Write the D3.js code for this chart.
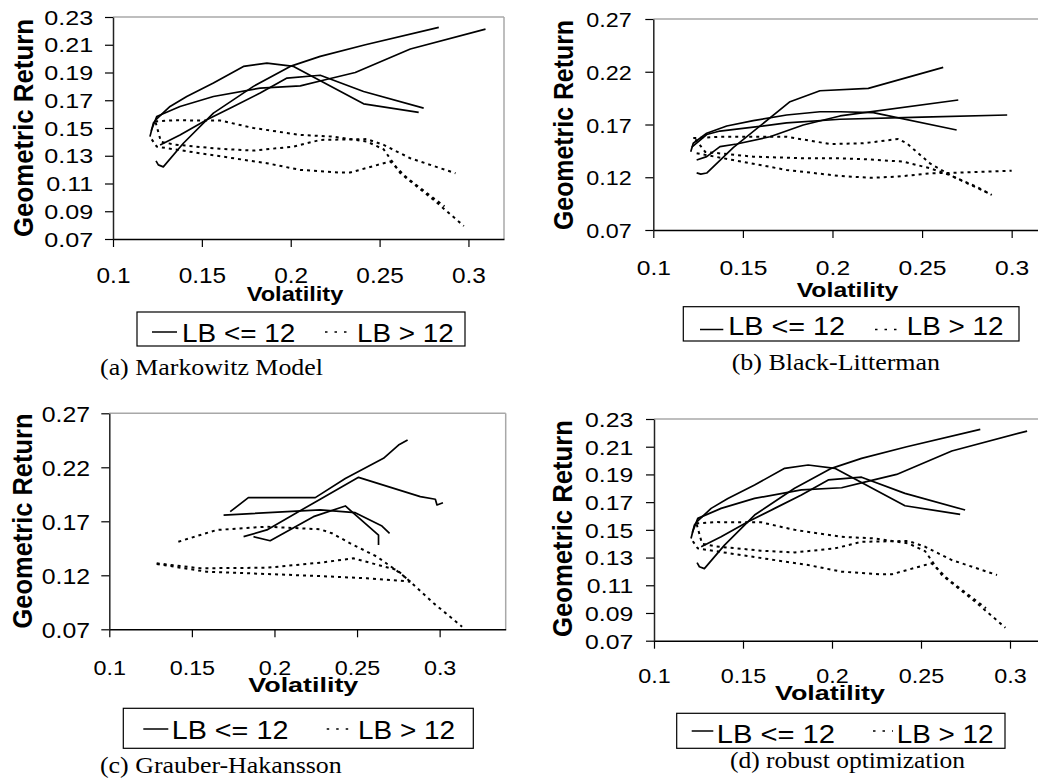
<!DOCTYPE html>
<html>
<head>
<meta charset="utf-8">
<script src="https://cdn.jsdelivr.net/npm/d3@7"></script>
<style>
  body { margin: 0; background: #fff; }
  svg { display: block; }
</style>
</head>
<body>
<svg id="chart" width="1038" height="783"></svg>
<script>
// Frontier curves as [volatility, geometric return] pairs.
// "Short" = look-back LB <= 12 (solid), "Long" = LB > 12 (dotted).

const markowitzShort = [
  [[0.1208,0.1438],[0.1227,0.1535],[0.1246,0.1565],[0.1321,0.1655],[0.1415,0.1727],[0.1565,0.1824],[0.1734,0.1944],[0.1866,0.1968],[0.2016,0.1944],[0.2410,0.1674],[0.2720,0.1612]],
  [[0.1215,0.1480],[0.1246,0.1583],[0.1377,0.1655],[0.1565,0.1727],[0.1828,0.1788],[0.2054,0.1804],[0.2194,0.1848],[0.2363,0.1900],[0.2673,0.2069],[0.3096,0.2213]],
  [[0.1265,0.1378],[0.1377,0.1450],[0.1528,0.1559],[0.1678,0.1655],[0.1828,0.1752],[0.1979,0.1860],[0.2166,0.1880],[0.2410,0.1763],[0.2748,0.1643]],
  [[0.1242,0.1263],[0.1255,0.1234],[0.1283,0.1220],[0.1396,0.1390],[0.1565,0.1607],[0.1790,0.1800],[0.1997,0.1944],[0.2166,0.2016],[0.2420,0.2100],[0.2833,0.2225]]
];
const markowitzLong = [
  [[0.1237,0.1547],[0.1350,0.1556],[0.1490,0.1554],[0.1603,0.1554],[0.1790,0.1500],[0.2054,0.1450],[0.2239,0.1438],[0.2429,0.1402],[0.2523,0.1346],[0.2617,0.1174],[0.2805,0.0981],[0.2974,0.0794]],
  [[0.1240,0.1540],[0.1270,0.1400],[0.1350,0.1380],[0.1600,0.1350],[0.1790,0.1337],[0.2016,0.1366],[0.2166,0.1414],[0.2429,0.1420],[0.2523,0.1378],[0.2673,0.1282],[0.2927,0.1174]],
  [[0.1218,0.1418],[0.1246,0.1366],[0.1490,0.1318],[0.1866,0.1246],[0.2054,0.1198],[0.2279,0.1179],[0.2335,0.1179],[0.2523,0.1246],[0.2560,0.1258],[0.2655,0.1140],[0.2865,0.0935]]
];

const blackLittermanShort = [
  [[0.1242,0.1242],[0.1265,0.1230],[0.1298,0.1240],[0.1446,0.1480],[0.1763,0.1916],[0.1930,0.2020],[0.2200,0.2043],[0.2618,0.2242]],
  [[0.1209,0.1442],[0.1223,0.1522],[0.1298,0.1617],[0.1410,0.1686],[0.1558,0.1736],[0.1744,0.1790],[0.1930,0.1821],[0.2042,0.1821],[0.2228,0.1812],[0.2693,0.1648]],
  [[0.1215,0.1485],[0.1298,0.1605],[0.1372,0.1638],[0.1558,0.1675],[0.1744,0.1715],[0.2042,0.1750],[0.2500,0.1770],[0.2975,0.1790]],
  [[0.1242,0.1363],[0.1298,0.1395],[0.1372,0.1490],[0.1465,0.1515],[0.1651,0.1584],[0.1837,0.1695],[0.2042,0.1781],[0.2702,0.1932]]
];
const blackLittermanLong = [
  [[0.1223,0.1571],[0.1372,0.1584],[0.1744,0.1584],[0.1986,0.1515],[0.2172,0.1522],[0.2367,0.1563],[0.2414,0.1522],[0.2544,0.1332],[0.2674,0.1205],[0.2879,0.1041]],
  [[0.1235,0.1560],[0.1290,0.1440],[0.1558,0.1395],[0.1837,0.1380],[0.2042,0.1380],[0.2191,0.1370],[0.2395,0.1348],[0.2544,0.1285],[0.2656,0.1220],[0.2805,0.1109],[0.2889,0.1032]],
  [[0.1242,0.1427],[0.1446,0.1363],[0.1744,0.1269],[0.2042,0.1212],[0.2209,0.1195],[0.2358,0.1205],[0.2544,0.1237],[0.2693,0.1243],[0.3000,0.1262]]
];

const grauberShort = [
  [[0.1732,0.1789],[0.1842,0.1919],[0.2247,0.1919],[0.2429,0.2097],[0.2660,0.2283],[0.2751,0.2406],[0.2806,0.2453]],
  [[0.1813,0.1558],[0.1954,0.1620],[0.2277,0.1905],[0.2509,0.2107],[0.2883,0.1928],[0.2974,0.1904],[0.2984,0.1851],[0.3020,0.1872]],
  [[0.1692,0.1758],[0.2277,0.1805],[0.2489,0.1780],[0.2651,0.1656],[0.2697,0.1589]],
  [[0.1873,0.1558],[0.1974,0.1520],[0.2236,0.1743],[0.2429,0.1842],[0.2630,0.1573],[0.2630,0.1481]]
];
const grauberLong = [
  [[0.1418,0.1511],[0.1651,0.1620],[0.1954,0.1650],[0.2277,0.1626],[0.2348,0.1589],[0.2459,0.1496],[0.2621,0.1372],[0.2762,0.1219],[0.2822,0.1141],[0.2964,0.0941],[0.3136,0.0724]],
  [[0.1287,0.1311],[0.1550,0.1265],[0.1954,0.1270],[0.2277,0.1317],[0.2479,0.1357],[0.2742,0.1249],[0.2822,0.1141]],
  [[0.1287,0.1305],[0.1590,0.1233],[0.1954,0.1212],[0.2277,0.1193],[0.2560,0.1172],[0.2762,0.1150],[0.2822,0.1141]]
];

// The robust-optimization frontiers coincide with the Markowitz ones.
const robustShort = markowitzShort;
const robustLong = markowitzLong;

const xTickValues = [0.1, 0.15, 0.2, 0.25, 0.3];
const yTicksFine = [0.07, 0.09, 0.11, 0.13, 0.15, 0.17, 0.19, 0.21, 0.23];
const yTicksCoarse = [0.07, 0.12, 0.17, 0.22, 0.27];
const legendLabels = ["LB <= 12", "LB > 12"];
const captions = ["(a) Markowitz Model", "(b) Black-Litterman", "(c) Grauber-Hakansson", "(d) robust optimization"];
const xTitle = "Volatility";
const yTitle = "Geometric Return";

// Panel placement and text metrics (label widths in px: y label "0.xx", x label "0.15").
const panels = [
  { short: markowitzShort, long: markowitzLong, caption: captions[0], yTicks: yTicksFine,
    plot: [113, 17, 504, 239], xMax: 0.32, yMax: 0.23, drawRight: true,
    yLab: { fs: 19.5, w: 49, right: 93.3 }, xLab: { fs: 21.5, w: 47.5, base: 283 },
    vol: { x: 295, base: 300.5, fs: 19.5, w: 96.7 },
    yT: { x: 33.3, y: 128, fs: 27, w: 218 },
    leg: { box: [137, 312, 465, 346], lineY: 332, s1: [152, 177], t1: 182, w1: 113.3, s2: [325, 353], t2: 357, w2: 96.7, base: 341.7, fs: 26 },
    cap: { x: 100, base: 375, fs: 23, w: 223 } },
  { short: blackLittermanShort, long: blackLittermanLong, caption: captions[1], yTicks: yTicksCoarse,
    plot: [653.3, 19, 1047.5, 230], xMax: 0.32, yMax: 0.27, drawRight: false,
    yLab: { fs: 21, w: 45.5, right: 631.7 }, xLab: { fs: 21, w: 48, base: 275 },
    vol: { x: 847.5, base: 297, fs: 19.5, w: 101.7 },
    yT: { x: 573, y: 125, fs: 27, w: 210 },
    leg: { box: [683.3, 306.7, 1019, 341], lineY: 329.5, s1: [700, 723.3], t1: 728.3, w1: 116.7, s2: [875, 901.7], t2: 906.7, w2: 96.7, base: 335, fs: 26 },
    cap: { x: 731.7, base: 370, fs: 23, w: 208.3 } },
  { short: grauberShort, long: grauberLong, caption: captions[2], yTicks: yTicksCoarse,
    plot: [109.3, 413.3, 505.7, 629.3], xMax: 0.34, yMax: 0.27, drawRight: true,
    yLab: { fs: 22, w: 48.3, right: 90 }, xLab: { fs: 21, w: 45.5, base: 675 },
    vol: { x: 303.3, base: 692, fs: 19.5, w: 110 },
    yT: { x: 32, y: 521, fs: 27, w: 215 },
    leg: { box: [123.3, 708.3, 473.3, 748.3], lineY: 729, s1: [143.3, 168.3], t1: 171.7, w1: 116.7, s2: [326.7, 353.3], t2: 358, w2: 97, base: 739, fs: 26 },
    cap: { x: 100, base: 773, fs: 23, w: 241.7 } },
  { short: robustShort, long: robustLong, caption: captions[3], yTicks: yTicksFine,
    plot: [654, 419, 1045.6, 640.7], xMax: 0.32, yMax: 0.23, drawRight: false,
    yLab: { fs: 20.5, w: 48.3, right: 633.3 }, xLab: { fs: 21, w: 45.5, base: 683 },
    vol: { x: 830, base: 700, fs: 19.5, w: 110 },
    yT: { x: 572, y: 528.5, fs: 27, w: 217 },
    leg: { box: [676.7, 713.3, 1005, 748.3], lineY: 731, s1: [691.7, 713.3], t1: 716.7, w1: 118.3, s2: [873, 893], t2: 896.7, w2: 96.7, base: 742.7, fs: 26 },
    cap: { x: 730, base: 768.3, fs: 23, w: 235 } }
];

const SANS = "Liberation Sans, Arial, sans-serif";
const SERIF = "Liberation Serif, Times New Roman, serif";
const DOT = "3,4";

const svg = d3.select("#chart");

// natural advance width of a string at a given size (sans)
function naturalWidth(str, fs, weight) {
  const t = svg.append("text").attr("font-family", SANS).attr("font-size", fs)
    .attr("font-weight", weight || "normal").text(str);
  const w = t.node().getComputedTextLength();
  t.remove();
  return w;
}

panels.forEach(p => {
  const [l, t, r, b] = p.plot;
  const x = d3.scaleLinear().domain([0.1, p.xMax]).range([l, r]);
  const y = d3.scaleLinear().domain([0.07, p.yMax]).range([b, t]);
  const g = svg.append("g");

  // plot-area frame (top / right in grey)
  g.append("line").attr("x1", l).attr("x2", r).attr("y1", t).attr("y2", t)
    .attr("stroke", "#a8a8a8").attr("stroke-width", 1.5);
  if (p.drawRight) {
    g.append("line").attr("x1", r).attr("x2", r).attr("y1", t).attr("y2", b)
      .attr("stroke", "#a8a8a8").attr("stroke-width", 1.5);
  }

  // x axis
  const kx = p.xLab.w / naturalWidth("0.15", p.xLab.fs);
  const xa = g.append("g").attr("transform", `translate(0,${b})`)
    .call(d3.axisBottom(x).tickValues(xTickValues).tickSize(8).tickSizeOuter(0).tickFormat(d => String(d)));
  xa.attr("font-size", null).attr("font-family", null);
  xa.select(".domain").attr("stroke", "#000").attr("stroke-width", 1.5).attr("fill", "none");
  xa.selectAll(".tick line").attr("stroke", "#000").attr("stroke-width", 1.2);
  xa.selectAll(".tick text")
    .attr("x", 0).attr("y", 0).attr("dy", null)
    .attr("text-anchor", "middle")
    .attr("transform", `translate(0,${p.xLab.base - b}) scale(${kx},1)`)
    .style("font-family", SANS).style("font-size", p.xLab.fs + "px").attr("fill", "#000");

  // y axis
  const ky = p.yLab.w / naturalWidth("0.07", p.yLab.fs);
  const ya = g.append("g").attr("transform", `translate(${l},0)`)
    .call(d3.axisLeft(y).tickValues(p.yTicks).tickSize(8).tickSizeOuter(0).tickFormat(d3.format(".2f")));
  ya.attr("font-size", null).attr("font-family", null);
  ya.select(".domain").attr("stroke", "#222").attr("stroke-width", 1.5).attr("fill", "none");
  ya.selectAll(".tick line").attr("stroke", "#000").attr("stroke-width", 1.2);
  ya.selectAll(".tick text")
    .attr("x", 0).attr("y", 0).attr("dy", "0.36em")
    .attr("text-anchor", "end")
    .attr("transform", `translate(${p.yLab.right - l},0) scale(${ky},1)`)
    .style("font-family", SANS).style("font-size", p.yLab.fs + "px").attr("fill", "#000");

  // frontier curves
  const line = d3.line().x(d => x(d[0])).y(d => y(d[1]));
  g.append("g").selectAll("path").data(p.long).join("path")
    .attr("d", line).attr("fill", "none").attr("stroke", "#000")
    .attr("stroke-width", 2).attr("stroke-dasharray", DOT);
  g.append("g").selectAll("path").data(p.short).join("path")
    .attr("d", line).attr("fill", "none").attr("stroke", "#000")
    .attr("stroke-width", 1.7).attr("stroke-linejoin", "round");

  // axis titles
  g.append("text").attr("x", p.vol.x).attr("y", p.vol.base)
    .attr("text-anchor", "middle").attr("font-family", SANS).attr("font-weight", "bold")
    .attr("font-size", p.vol.fs).attr("textLength", p.vol.w).attr("lengthAdjust", "spacingAndGlyphs")
    .text(xTitle);
  g.append("text").attr("transform", `translate(${p.yT.x},${p.yT.y}) rotate(-90)`)
    .attr("text-anchor", "middle").attr("font-family", SANS).attr("font-weight", "bold")
    .attr("font-size", p.yT.fs).attr("textLength", p.yT.w).attr("lengthAdjust", "spacingAndGlyphs")
    .text(yTitle);

  // legend
  const L = p.leg;
  g.append("rect").attr("x", L.box[0]).attr("y", L.box[1])
    .attr("width", L.box[2] - L.box[0]).attr("height", L.box[3] - L.box[1])
    .attr("fill", "#fff").attr("stroke", "#000").attr("stroke-width", 1.2);
  g.append("line").attr("x1", L.s1[0]).attr("x2", L.s1[1]).attr("y1", L.lineY).attr("y2", L.lineY)
    .attr("stroke", "#000").attr("stroke-width", 1.5);
  g.append("line").attr("x1", L.s2[0]).attr("x2", L.s2[1]).attr("y1", L.lineY).attr("y2", L.lineY)
    .attr("stroke", "#000").attr("stroke-width", 1.6).attr("stroke-dasharray", "2.5,7");
  g.append("text").attr("x", L.t1).attr("y", L.base)
    .attr("font-family", SANS).attr("font-size", L.fs)
    .attr("textLength", L.w1).attr("lengthAdjust", "spacingAndGlyphs").text(legendLabels[0]);
  g.append("text").attr("x", L.t2).attr("y", L.base)
    .attr("font-family", SANS).attr("font-size", L.fs)
    .attr("textLength", L.w2).attr("lengthAdjust", "spacingAndGlyphs").text(legendLabels[1]);

  // caption
  g.append("text").attr("x", p.cap.x).attr("y", p.cap.base)
    .attr("font-family", SERIF).attr("font-size", p.cap.fs)
    .attr("textLength", p.cap.w).attr("lengthAdjust", "spacingAndGlyphs").text(p.caption);
});
</script>
</body>
</html>
